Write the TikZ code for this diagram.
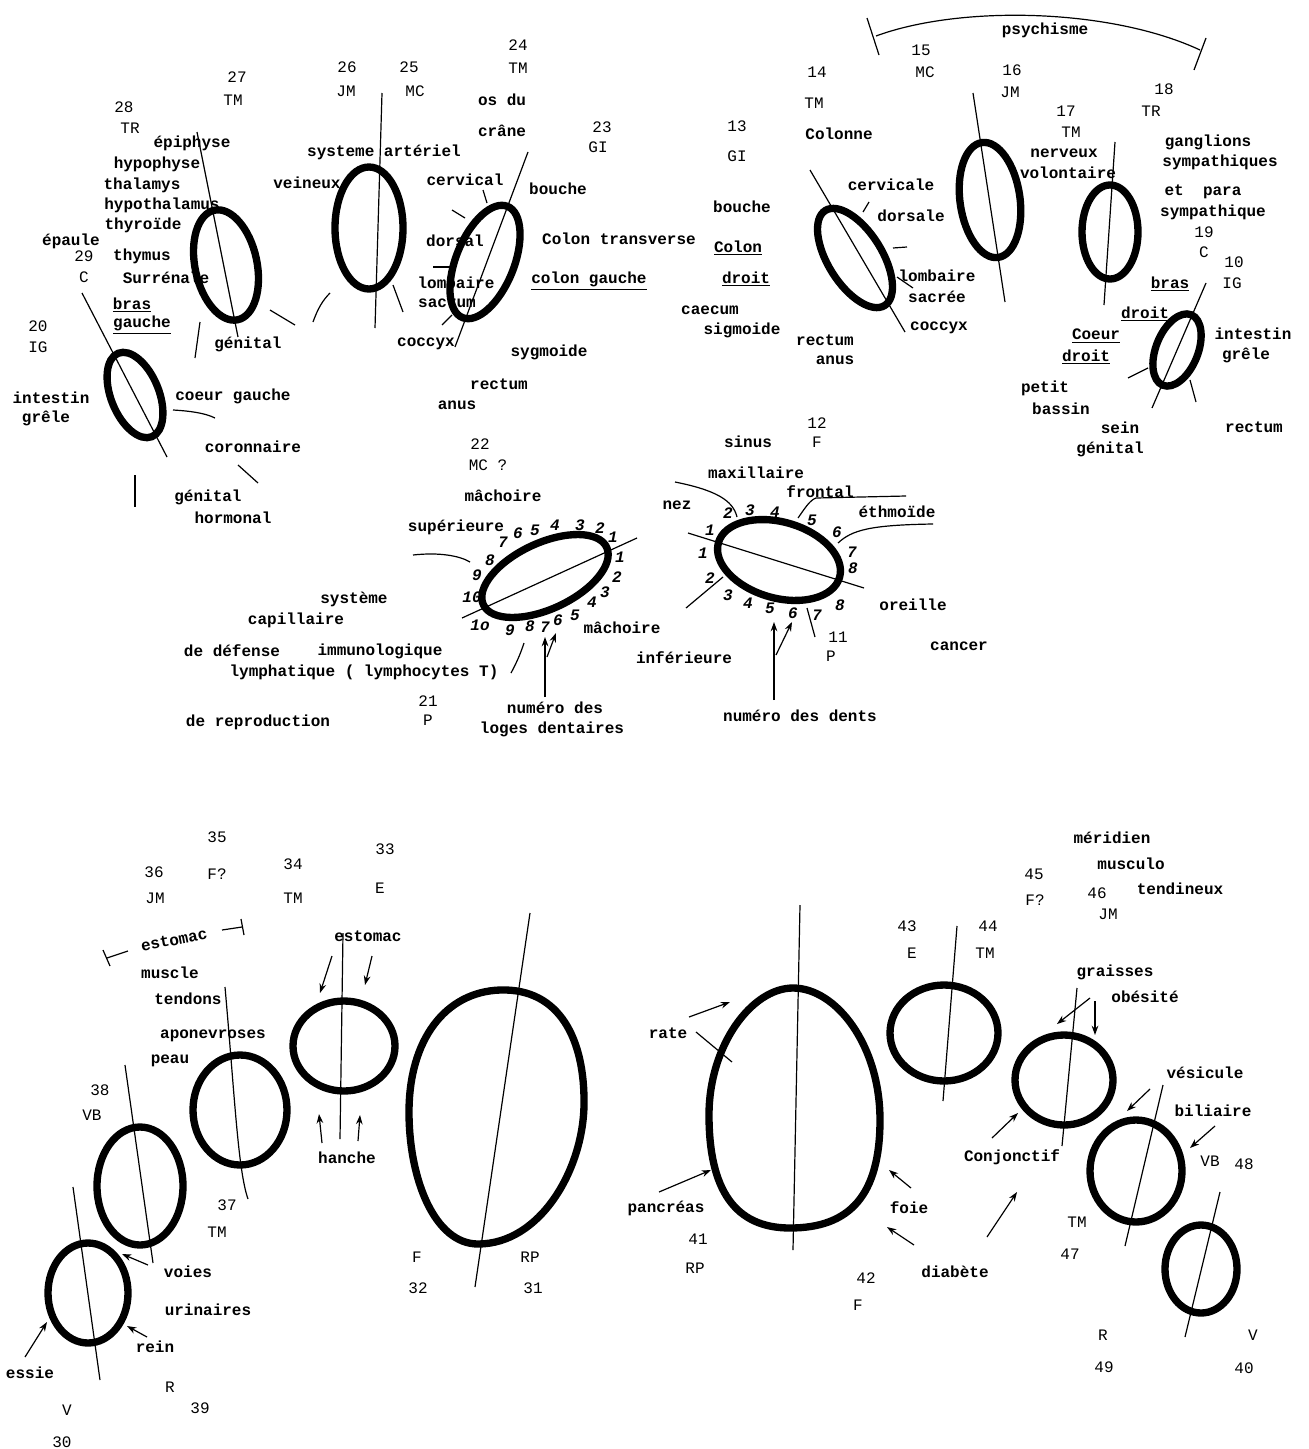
\documentclass[tikz,border=0pt]{standalone}
\usepackage{fontspec}
\setmainfont{Liberation Mono}
\usetikzlibrary{arrows.meta}

\tikzset{
  organe/.style={line width=5.5},
  axe/.style={line width=0.9},
  trait/.style={line width=0.9},
  fleche/.style={line width=0.9,-{Stealth[length=7pt,width=5pt]}},
  lbl/.style={inner sep=0.75pt,font=\fontsize{12}{14}\selectfont\bfseries},
  code/.style={inner sep=0.75pt,font=\fontsize{12}{14}\selectfont},
  dent/.style={inner sep=0.5pt,font=\fontsize{12}{13}\selectfont\bfseries\itshape},
}

\begin{document}
\begin{tikzpicture}[x=0.75pt,y=0.75pt,yscale=-1,xscale=1]
%set diagram frame to the page: 1309 x 1449
\path [fill=white] (0,0) rectangle (1309,1449);
\useasboundingbox (0,0) rectangle (1309,1449);

%Organes du haut
\draw [organe, rotate around={-12:(226,265)}] (226,265) ellipse (31 and 56);
\draw [axe] (197,132) -- (238,337);
\draw [organe, rotate around={-22:(135,395)}] (135,395) ellipse (24 and 45);
\draw [axe] (82,293) -- (167,457);
\draw [organe] (369,228) ellipse (34 and 61);
\draw [axe] (382,93) -- (375,328);
\draw [organe, rotate around={22:(485,262)}] (485,262) ellipse (29 and 60);
\draw [axe] (528,152) -- (455,347);
\draw [organe, rotate around={-32:(855,258)}] (855,258) ellipse (27 and 56);
\draw [axe] (810,170) -- (905,332);
\draw [organe, rotate around={-8:(990,200)}] (990,200) ellipse (30 and 58);
\draw [axe] (973,93) -- (1005,302);
\draw [organe] (1110,232) ellipse (28 and 47);
\draw [axe] (1115,142) -- (1104,305);
\draw [organe, rotate around={22:(1177,350)}] (1177,350) ellipse (21 and 38);
\draw [axe] (1206,283) -- (1152,408);

%Petits traits du haut
\draw [trait] (270,310) -- (295,325);
\draw [trait] (313,322) .. controls (318,308) and (323,300) .. (330,293);
\draw [trait] (200,322) -- (195,358);
\draw [trait] (393,285) -- (403,312);
\draw [trait] (173,410) .. controls (190,411) and (205,413) .. (215,418);
\draw [trait] (238,465) -- (258,483);
\draw [trait] (135,475) -- (135,507);
\draw [trait] (483,190) -- (487,203);
\draw [trait] (452,210) -- (465,218);
\draw [trait] (433,267) -- (450,267);
\draw [trait] (442,325) -- (452,315);
\draw [trait] (863,212) -- (869,202);
\draw [trait] (893,248) -- (907,247);
\draw [trait] (897,277) -- (913,288);
\draw [trait] (1148,368) -- (1128,378);
\draw [trait] (1190,380) -- (1196,402);

%psychisme
\draw [trait] (876,36) .. controls (960,5) and (1110,8) .. (1200,50);
\draw [trait] (867,18) -- (879,55);
\draw [trait] (1206,38) -- (1194,70);

%Machoires
\draw [organe, rotate around={-25:(545,576)}] (545,576) ellipse (68 and 33);
\draw [axe] (462,618) -- (637,538);
\draw [organe, rotate around={16:(779,560)}] (779,560) ellipse (63 and 38);
\draw [axe] (688,533) -- (864,588);
\draw [trait] (413,555) .. controls (440,552) and (460,556) .. (470,562);
\draw [trait] (511,673) .. controls (518,660) and (521,652) .. (524,643);
\draw [trait] (675,482) .. controls (715,490) and (733,500) .. (737,517);
\draw [trait] (798,518) .. controls (805,508) and (810,500) .. (816,498) -- (906,496);
\draw [trait] (838,543) .. controls (852,530) and (870,525) .. (933,524);
\draw [trait] (723,577) -- (686,608);
\draw [trait] (807,608) -- (815,637);
\draw [fleche] (545,697) -- (545,637);
\draw [fleche] (547,657) -- (556,633);
\draw [fleche] (774,700) -- (774,622);
\draw [fleche] (776,655) -- (792,622);

%Organes du bas
\draw [organe] (344,1046) ellipse (51 and 45);
\draw [axe] (343,933) -- (340,1139);
\draw [organe] (240,1110) ellipse (47 and 55);
\draw [axe] (225,987) .. controls (235,1100) and (238,1170) .. (248,1199);
\draw [organe] (140,1186) ellipse (43 and 59);
\draw [axe] (125,1065) -- (153,1263);
\draw [organe] (88,1293) ellipse (40 and 50);
\draw [axe] (73,1187) -- (100,1380);
\draw [organe] (500,990) .. controls (560,988) and (585,1040) .. (584,1105) .. controls (583,1170) and (540,1244) .. (478,1244) .. controls (435,1244) and (409,1180) .. (409,1112) .. controls (409,1040) and (445,992) .. (500,990) -- cycle;
\draw [axe] (530,913) -- (475,1287);
\draw [organe] (793,988) .. controls (836,988) and (880,1045) .. (880,1120) .. controls (880,1195) and (850,1228) .. (790,1228) .. controls (735,1228) and (709,1190) .. (709,1115) .. controls (709,1045) and (752,988) .. (793,988) -- cycle;
\draw [axe] (800,905) -- (793,1250);
\draw [organe] (944,1033) ellipse (54 and 48);
\draw [axe] (957,926) -- (943,1101);
\draw [organe] (1064,1080) ellipse (49 and 45);
\draw [axe] (1077,988) -- (1062,1146);
\draw [organe] (1136,1171) ellipse (46 and 51);
\draw [axe] (1163,1085) -- (1125,1246);
\draw [organe] (1201,1269) ellipse (36 and 44);
\draw [axe] (1220,1192) -- (1185,1337);

%estomac
\draw [trait] (103,950) -- (110,966);
\draw [trait] (107,958) -- (128,951);
\draw [trait] (222,930) -- (242,927);
\draw [trait] (241,919) -- (244,935);

%Fleches du bas
\draw [fleche] (332,956) -- (320,993);
\draw [fleche] (372,956) -- (365,985);
\draw [fleche] (322,1143) -- (319,1114);
\draw [fleche] (358,1141) -- (360,1115);
\draw [fleche] (148,1265) -- (122,1254);
\draw [fleche] (147,1337) -- (127,1326);
\draw [fleche] (25,1357) -- (47,1322);
\draw [fleche] (689,1017) -- (730,1002);
\draw [trait] (696,1032) -- (732,1062);
\draw [fleche] (659,1192) -- (711,1170);
\draw [fleche] (911,1188) -- (889,1170);
\draw [fleche] (914,1245) -- (887,1227);
\draw [fleche] (987,1237) -- (1017,1192);
\draw [fleche] (1090,998) -- (1057,1024);
\draw [fleche] (1095,1001) -- (1095,1035);
\draw [fleche] (992,1138) -- (1018,1113);
\draw [fleche] (1150,1089) -- (1127,1111);
\draw [fleche] (1215,1126) -- (1190,1148);

% Text Node (haut gauche)
\node [code] (n27) at (237,77) {27};
\node [code] (m27) at (233,100) {TM};
\node [code] (n28) at (124,107) {28};
\node [code] (m28) at (130,128) {TR};
\node [lbl] (epiphyse) at (192,143) {épiphyse};
\node [lbl] (hypophyse) at (157,164) {hypophyse};
\node [lbl] (thalamys) at (142,185) {thalamys};
\node [lbl] (hypothal) at (162,205) {hypothalamus};
\node [lbl] (thyroide) at (143,225) {thyroïde};
\node [lbl] (epaule) at (71,241) {épaule};
\node [code] (n29) at (84,256) {29};
\node [code] (m29) at (84,277) {C};
\node [lbl] (thymus) at (142,256) {thymus};
\node [lbl] (surrenale) at (166,278) {Surrénale};
\node [lbl] (brasG) at (132,305) {\underline{bras}};
\node [lbl] (gauche) at (142,325) {\underline{gauche}};
\node [code] (n20) at (38,326) {20};
\node [code] (m20) at (38,347) {IG};
\node [lbl] (genitalA) at (248,344) {génital};
\node [lbl] (intestinG) at (51,398) {intestin};
\node [lbl] (greleG) at (46,418) {grêle};
\node [lbl] (coeurG) at (233,396) {coeur gauche};
\node [lbl] (coronnaire) at (253,447) {coronnaire};
\node [lbl] (genitalH) at (208,497) {génital};
\node [lbl] (hormonal) at (233,518) {hormonal};

% Text Node (haut milieu)
\node [code] (n26) at (347,67) {26};
\node [code] (m26) at (346,91) {JM};
\node [code] (n25) at (409,67) {25};
\node [code] (m25) at (415,91) {MC};
\node [lbl] (arteriel) at (384,152) {systeme artériel};
\node [lbl] (veineux) at (307,183) {veineux};
\node [code] (n24) at (518,45) {24};
\node [code] (m24) at (518,68) {TM};
\node [lbl] (osdu) at (502,100) {os du};
\node [lbl] (crane) at (502,131) {crâne};
\node [code] (n23) at (602,127) {23};
\node [code] (m23) at (598,147) {GI};
\node [lbl] (cervical) at (465,180) {cervical};
\node [lbl] (dorsal) at (455,241) {dorsal};
\node [lbl] (lombaire) at (456,283) {lombaire};
\node [lbl] (sacrum) at (447,303) {sacrum};
\node [lbl] (coccyx) at (426,344) {coccyx};
\node [lbl] (boucheG) at (558,189) {bouche};
\node [lbl] (transverse) at (619,239) {Colon transverse};
\node [lbl] (colonG) at (589,281) {\underline{colon gauche}};
\node [lbl] (sygmoide) at (549,352) {sygmoide};
\node [lbl] (rectumG) at (499,384) {rectum};
\node [lbl] (anusG) at (457,405) {anus};

% Text Node (haut droite)
\node [code] (n13) at (737,126) {13};
\node [code] (m13) at (737,156) {GI};
\node [lbl] (boucheD) at (742,207) {bouche};
\node [lbl] (colonD) at (738,248) {\underline{Colon}};
\node [lbl] (droitC) at (746,279) {\underline{droit}};
\node [lbl] (caecum) at (710,310) {caecum};
\node [lbl] (sigmoide) at (742,330) {sigmoide};
\node [lbl] (rectumD) at (825,340) {rectum};
\node [lbl] (anusD) at (835,360) {anus};
\node [code] (n14) at (817,72) {14};
\node [code] (m14) at (814,103) {TM};
\node [lbl] (colonne) at (839,134) {Colonne};
\node [lbl] (cervicale) at (891,185) {cervicale};
\node [lbl] (dorsale) at (911,216) {dorsale};
\node [lbl] (lombaireD) at (937,276) {lombaire};
\node [lbl] (sacree) at (937,297) {sacrée};
\node [lbl] (coccyxD) at (939,328) {coccyx};
\node [lbl] (psychisme) at (1045,30) {psychisme};
\node [code] (n15) at (921,50) {15};
\node [code] (m15) at (925,72) {MC};
\node [code] (n16) at (1012,70) {16};
\node [code] (m16) at (1010,92) {JM};
\node [code] (n17) at (1066,111) {17};
\node [code] (m17) at (1071,132) {TM};
\node [lbl] (nerveux) at (1064,153) {nerveux};
\node [lbl] (volontaire) at (1068,173) {volontaire};
\node [code] (n18) at (1164,89) {18};
\node [code] (m18) at (1151,111) {TR};
\node [lbl] (ganglions) at (1208,142) {ganglions};
\node [lbl] (sympathiques) at (1220,162) {sympathiques};
\node [lbl] (etpara) at (1203,192) {et\ \ para};
\node [lbl] (sympathique) at (1213,212) {sympathique};
\node [code] (n19) at (1204,232) {19};
\node [code] (m19) at (1204,252) {C};
\node [code] (n10) at (1234,262) {10};
\node [code] (m10) at (1232,283) {IG};
\node [lbl] (brasD) at (1170,284) {\underline{bras}};
\node [lbl] (droitB) at (1145,314) {\underline{droit}};
\node [lbl] (coeurD) at (1096,336) {\underline{Coeur}};
\node [lbl] (droitD) at (1086,357) {\underline{droit}};
\node [lbl] (intestinD) at (1253,334) {intestin};
\node [lbl] (greleD) at (1246,355) {grêle};
\node [lbl] (petit) at (1045,388) {petit};
\node [lbl] (bassin) at (1061,409) {bassin};
\node [lbl] (sein) at (1120,428) {sein};
\node [lbl] (genitalD) at (1110,449) {génital};
\node [lbl] (rectumH) at (1254,427) {rectum};

% Text Node (machoires)
\node [code] (n22) at (480,444) {22};
\node [code] (m22) at (488,465) {MC ?};
\node [lbl] (machoireS) at (503,496) {mâchoire};
\node [lbl] (superieure) at (456,527) {supérieure};
\node [lbl] (systeme) at (354,599) {système};
\node [lbl] (capillaire) at (296,620) {capillaire};
\node [lbl] (defense) at (232,651) {de défense};
\node [lbl] (immuno) at (380,651) {immunologique};
\node [lbl] (lymph) at (364,672) {lymphatique ( lymphocytes T)};
\node [lbl] (reproduction) at (258,722) {de reproduction};
\node [code] (n21) at (428,701) {21};
\node [code] (m21) at (428,720) {P};
\node [lbl] (loges1) at (555,708) {numéro des};
\node [lbl] (loges2) at (552,729) {loges dentaires};
\node [lbl] (machoireI) at (622,628) {mâchoire};
\node [lbl] (inferieure) at (684,658) {inférieure};
\node [code] (n12) at (817,423) {12};
\node [code] (m12) at (817,442) {F};
\node [lbl] (sinus) at (748,442) {sinus};
\node [lbl] (maxillaire) at (756,473) {maxillaire};
\node [lbl] (nez) at (677,505) {nez};
\node [lbl] (frontal) at (820,492) {frontal};
\node [lbl] (ethmoide) at (897,512) {éthmoïde};
\node [lbl] (oreille) at (913,605) {oreille};
\node [lbl] (cancer) at (959,646) {cancer};
\node [code] (n11) at (838,637) {11};
\node [code] (m11) at (831,656) {P};
\node [lbl] (dents) at (800,716) {numéro des dents};

% numeros des loges (machoire superieure)
\node [dent] (s7) at (503,542) {7};
\node [dent] (s6) at (518,533) {6};
\node [dent] (s5) at (535,530) {5};
\node [dent] (s4) at (555,525) {4};
\node [dent] (s3) at (580,525) {3};
\node [dent] (s2) at (600,528) {2};
\node [dent] (s1) at (613,537) {1};
\node [dent] (s8) at (490,560) {8};
\node [dent] (s9) at (477,575) {9};
\node [dent] (s10) at (472,597) {10};
\node [dent] (i1) at (620,557) {1};
\node [dent] (i2) at (617,577) {2};
\node [dent] (i3) at (605,592) {3};
\node [dent] (i4) at (592,602) {4};
\node [dent] (i5) at (575,615) {5};
\node [dent] (i6) at (558,620) {6};
\node [dent] (i7) at (545,627) {7};
\node [dent] (i8) at (530,626) {8};
\node [dent] (i9) at (510,630) {9};
\node [dent] (i10) at (480,625) {1o};
% numeros des dents (sinus)
\node [dent] (d1) at (710,530) {1};
\node [dent] (d2) at (728,513) {2};
\node [dent] (d3) at (750,510) {3};
\node [dent] (d4) at (775,512) {4};
\node [dent] (d5) at (812,520) {5};
\node [dent] (d6) at (837,532) {6};
\node [dent] (d7) at (852,552) {7};
\node [dent] (d8) at (853,568) {8};
\node [dent] (e1) at (703,553) {1};
\node [dent] (e2) at (710,578) {2};
\node [dent] (e3) at (728,595) {3};
\node [dent] (e4) at (748,603) {4};
\node [dent] (e5) at (770,608) {5};
\node [dent] (e6) at (793,613) {6};
\node [dent] (e7) at (817,615) {7};
\node [dent] (e8) at (840,605) {8};

% Text Node (bas gauche)
\node [code] (n35) at (217,837) {35};
\node [code] (m35) at (217,874) {F?};
\node [code] (n36) at (154,872) {36};
\node [code] (m36) at (155,898) {JM};
\node [code] (n34) at (293,864) {34};
\node [code] (m34) at (293,898) {TM};
\node [code] (n33) at (385,849) {33};
\node [code] (m33) at (380,888) {E};
\node [lbl, rotate=11] (estomacA) at (174,940) {estomac};
\node [lbl] (muscle) at (170,973) {muscle};
\node [lbl] (tendons) at (188,999) {tendons};
\node [lbl] (aponev) at (213,1036) {aponevroses};
\node [lbl] (peau) at (170,1061) {peau};
\node [lbl] (estomacB) at (368,936) {estomac};
\node [lbl] (hanche) at (347,1158) {hanche};
\node [code] (n38) at (100,1090) {38};
\node [code] (m38) at (92,1115) {VB};
\node [code] (n37) at (227,1205) {37};
\node [code] (m37) at (217,1232) {TM};
\node [lbl] (voies) at (188,1272) {voies};
\node [lbl] (urinaires) at (208,1310) {urinaires};
\node [lbl] (rein) at (155,1347) {rein};
\node [lbl] (essie) at (30,1373) {essie};
\node [code] (m30) at (67,1410) {V};
\node [code] (n30) at (62,1442) {30};
\node [code] (m39) at (170,1387) {R};
\node [code] (n39) at (200,1408) {39};
\node [code] (m32) at (417,1257) {F};
\node [code] (n32) at (418,1288) {32};
\node [code] (m31) at (530,1257) {RP};
\node [code] (n31) at (533,1288) {31};

% Text Node (bas droite)
\node [lbl] (rate) at (668,1033) {rate};
\node [lbl] (pancreas) at (666,1208) {pancréas};
\node [code] (n41) at (698,1239) {41};
\node [code] (m41) at (695,1268) {RP};
\node [lbl] (foie) at (909,1208) {foie};
\node [lbl] (diabete) at (955,1272) {diabète};
\node [code] (n42) at (866,1278) {42};
\node [code] (m42) at (858,1305) {F};
\node [code] (n43) at (907,926) {43};
\node [code] (m43) at (912,953) {E};
\node [code] (n44) at (988,926) {44};
\node [code] (m44) at (985,953) {TM};
\node [code] (n45) at (1034,874) {45};
\node [code] (m45) at (1035,900) {F?};
\node [code] (n46) at (1097,893) {46};
\node [code] (m46) at (1108,914) {JM};
\node [lbl] (meridien) at (1112,838) {méridien};
\node [lbl] (musculo) at (1131,864) {musculo};
\node [lbl] (tendineux) at (1180,889) {tendineux};
\node [lbl] (graisses) at (1115,972) {graisses};
\node [lbl] (obesite) at (1145,997) {obésité};
\node [lbl] (conjonctif) at (1012,1157) {Conjonctif};
\node [lbl] (vesicule) at (1205,1073) {vésicule};
\node [lbl] (biliaire) at (1213,1111) {biliaire};
\node [code] (m48) at (1210,1161) {VB};
\node [code] (n48) at (1244,1164) {48};
\node [code] (m47) at (1077,1222) {TM};
\node [code] (n47) at (1070,1254) {47};
\node [code] (m49) at (1103,1335) {R};
\node [code] (n49) at (1104,1367) {49};
\node [code] (m40) at (1253,1335) {V};
\node [code] (n40) at (1244,1368) {40};

\end{tikzpicture}
\end{document}
